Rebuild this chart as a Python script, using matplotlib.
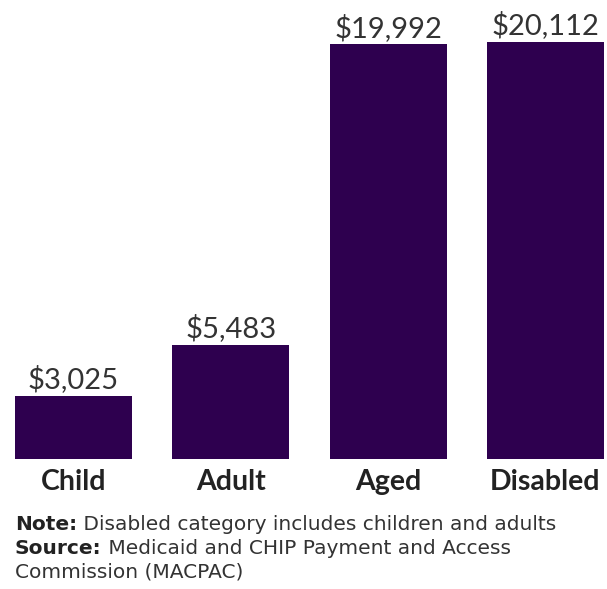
import numpy as np
import matplotlib.pyplot as plt

categories = ["Child", "Adult", "Aged", "Disabled"]
spending = [3025, 5483, 19992, 20112]
value_labels = ["$3,025", "$5,483", "$19,992", "$20,112"]

note_lines = [
    ("Note:", " Disabled category includes children and adults"),
    ("Source:", " Medicaid and CHIP Payment and Access"),
    ("", "Commission (MACPAC)"),
]

bar_color = "#2e004f"
text_color = "#333333"
font = "Lato"
note_font = "DejaVu Sans"

W, H = 607, 589
fig = plt.figure(figsize=(W / 100, H / 100), dpi=100)

# axes box in pixels: bars run from x=15 to x=604, baseline at y=459
ymax = 22000
px_per_unit = (459 - 42) / 20112
ax_h = ymax * px_per_unit
ax = fig.add_axes([15 / W, 1 - 459 / H, (604 - 15) / W, ax_h / H])

width = 0.744
x = np.arange(len(categories))
bars = ax.bar(x, spending, width=width, color=bar_color)

ax.set_xlim(-width / 2, len(categories) - 1 + width / 2)
ax.set_ylim(0, ymax)

for rect, lab in zip(bars, value_labels):
    ax.annotate(lab, (rect.get_x() + rect.get_width() / 2, rect.get_height()),
                xytext=(0, 2), textcoords="offset points",
                ha="center", va="bottom", fontsize=21,
                family=font, color=text_color, annotation_clip=False)

ax.set_xticks(x)
ax.set_xticklabels(categories, family=font, fontweight="bold",
                   fontsize=20.5, color="#222222")
ax.tick_params(axis="x", length=0, pad=7)
ax.set_yticks([])
for s in ax.spines.values():
    s.set_visible(False)

# footnote lines, bold lead-in followed by regular text
baselines = [530, 554, 578]
for (lead, rest), yb in zip(note_lines, baselines):
    if lead:
        t = fig.text(15 / W, 1 - yb / H, lead, family=note_font,
                     fontweight="bold", fontsize=14.5, color="#222222",
                     va="baseline", ha="left")
        ax.annotate(rest, xy=(1, 0), xycoords=t, va="bottom", ha="left",
                    family=note_font, fontsize=14.5, color=text_color,
                    annotation_clip=False)
    else:
        fig.text(15 / W, 1 - yb / H, rest, family=note_font, fontsize=14.5,
                 color=text_color, va="baseline", ha="left")

fig.savefig("out.png", dpi=100)
